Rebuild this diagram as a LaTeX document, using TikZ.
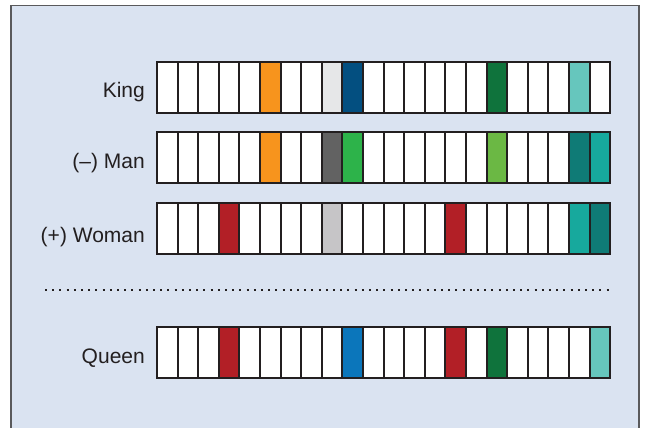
\documentclass[tikz,border=0pt]{standalone}
\usepackage{fontspec}
\setmainfont{Liberation Sans}
\usetikzlibrary{positioning}

\definecolor{panel}{HTML}{DAE3F1}
\definecolor{framegray}{HTML}{5A5A5C}
\definecolor{cellline}{HTML}{231F20}
\definecolor{wordtext}{HTML}{231F20}
\definecolor{orange}{HTML}{F7941D}
\definecolor{paleg}{HTML}{E6E7E8}
\definecolor{navy}{HTML}{034F80}
\definecolor{forest}{HTML}{0F733C}
\definecolor{mint}{HTML}{66C6BD}
\definecolor{slate}{HTML}{626262}
\definecolor{grass}{HTML}{2DB34A}
\definecolor{lime}{HTML}{6BB844}
\definecolor{deepteal}{HTML}{0F7B76}
\definecolor{teal}{HTML}{17A99D}
\definecolor{crimson}{HTML}{B21F26}
\definecolor{silver}{HTML}{C6C5C7}
\definecolor{azure}{HTML}{0B76BB}

\begin{document}
\begin{tikzpicture}[x=1pt,y=-1pt,
  cell/.style={draw=cellline,line width=2pt,minimum width=20.6pt,minimum height=51pt,inner sep=0pt,outer sep=0pt},
  word/.style={font=\fontsize{21}{25}\selectfont,text=wordtext,inner sep=0pt,text height=15pt,text depth=0pt}]
 \useasboundingbox (0,0) rectangle (645,428);
 \fill[panel] (11,5.5) rectangle (639,428);
 \draw[framegray,line width=1.5pt] (11,428) -- (11,5.5) -- (639,5.5) -- (639,428);

 % king
 \foreach \c [count=\i from 0] in {white,white,white,white,white,orange,white,white,paleg,navy,white,white,white,white,white,white,forest,white,white,white,mint,white}
   \node[cell,fill=\c] (king-\i) at ({167.3+20.6*\i},87.5) {};
 % man
 \foreach \c [count=\i from 0] in {white,white,white,white,white,orange,white,white,slate,grass,white,white,white,white,white,white,lime,white,white,white,deepteal,teal}
   \node[cell,fill=\c] (man-\i) at ({167.3+20.6*\i},157.5) {};
 % woman
 \foreach \c [count=\i from 0] in {white,white,white,crimson,white,white,white,white,silver,white,white,white,white,white,crimson,white,white,white,white,white,teal,deepteal}
   \node[cell,fill=\c] (woman-\i) at ({167.3+20.6*\i},228) {};
 % queen
 \foreach \c [count=\i from 0] in {white,white,white,crimson,white,white,white,white,white,azure,white,white,white,white,crimson,white,forest,white,white,white,white,mint}
   \node[cell,fill=\c] (queen-\i) at ({167.3+20.6*\i},352.5) {};

 \node[word,left=12pt of king-0,yshift=-2.5pt] (king) {King};
 \node[word,left=12pt of man-0,yshift=-3.5pt] (man) {(--) Man};
 \node[word,left=12pt of woman-0,yshift=-7pt] (woman) {(+) Woman};
 \node[word,left=12pt of queen-0,yshift=-3.5pt] (queen) {Queen};

 \coordinate (sep-l) at (45,290);
 \coordinate (sep-r) at (613,290);
 \draw[cellline,line width=2pt,dash pattern=on 2pt off 5.2pt] (sep-l) -- (sep-r);
\end{tikzpicture}
\end{document}
